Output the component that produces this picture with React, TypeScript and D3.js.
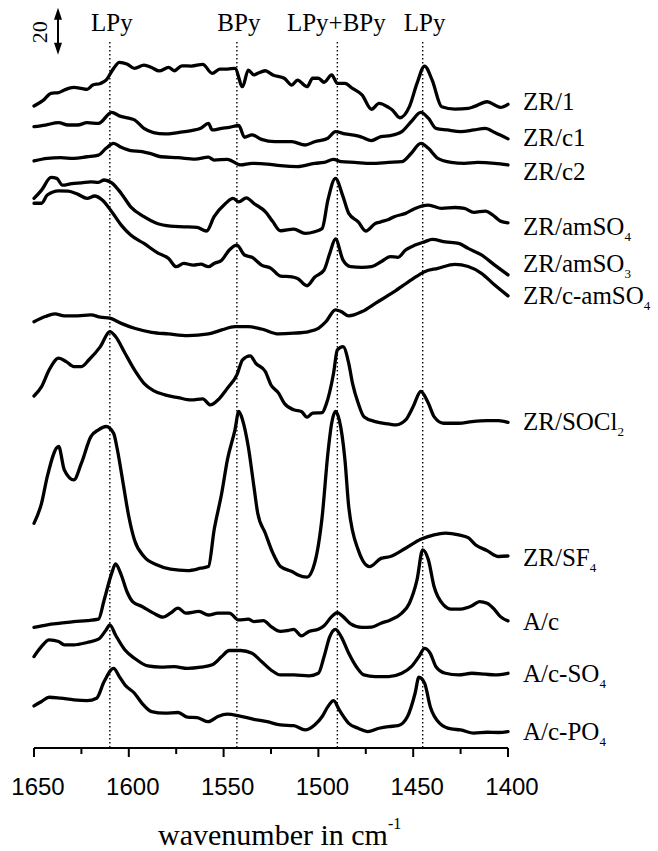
import React from "react";
import * as d3 from "d3";

// IR spectra of adsorbed pyridine, [wavenumber cm-1, intensity] relative to each baseline
const zr1: [number, number][] = [
  [1650, 0.3], [1645, 2.8], [1641, 5.7], [1637, 6.0], [1634, 7.1], [1629, 8.2], [1625, 7.8],
  [1622, 7.4], [1619, 9.2], [1615, 9.9], [1612, 11.3], [1608, 16.3], [1605, 18.9], [1601, 18.2],
  [1597, 16.3], [1592, 17.7], [1588, 16.7], [1584, 15.2], [1579, 16.7], [1576, 15.3], [1572, 17.4],
  [1567, 17.3], [1561, 18.0], [1556, 14.2], [1552, 16.0], [1548, 16.0], [1544, 16.3], [1540, 8.5],
  [1537, 15.6], [1534, 13.5], [1532, 14.2], [1528, 15.3], [1524, 13.5], [1518, 12.1], [1514, 9.2],
  [1511, 11.3], [1506, 8.5], [1503, 12.1], [1500, 12.1], [1497, 10.4], [1493, 13.5], [1490, 9.9],
  [1486, 9.9], [1482, 7.8], [1477, 5.0], [1472, -1.1], [1468, 1.4], [1463, -0.3], [1461, -1.4],
  [1457, -4.7], [1452, 0], [1448, 9.9], [1444, 17.3], [1440, 11.3], [1435, 0], [1428, -1.0],
  [1421, -0.7], [1418, 0], [1411, 2.1], [1406, 0.3], [1404, -0.3], [1400, 1.0],
];
const zrC1: [number, number][] = [
  [1650, 2.1], [1644, 2.8], [1637, 3.8], [1632, 2.8], [1627, 2.8], [1622, 3.8], [1616, 3.5],
  [1609, 8.2], [1605, 6.7], [1600, 5.7], [1597, 5.0], [1592, 1.4], [1587, -0.4], [1581, -1.0],
  [1574, -0.4], [1567, 0.4], [1562, 1.4], [1558, 3.5], [1556, 0.7], [1551, 1.4], [1547, 1.8],
  [1542, 2.6], [1539, -2.4], [1535, -1.4], [1530, -3.3], [1523, -4.3], [1514, -4.3], [1507, -5.7],
  [1502, -4.3], [1495, -2.8], [1491, 0], [1486, -1.0], [1480, -1.7], [1477, -2.4], [1472, -3.8],
  [1467, -2.1], [1462, -1.7], [1456, 0], [1451, 4.3], [1446, 8.2], [1442, 5.7], [1438, 1.4],
  [1432, 0.7], [1425, 0], [1418, 0.7], [1412, 1.4], [1407, -0.4], [1400, -3.1],
];
const zrC2: [number, number][] = [
  [1650, 1.0], [1643, 2.1], [1636, 2.4], [1629, 2.1], [1622, 2.8], [1616, 3.5], [1612, 6.4],
  [1608, 8.5], [1604, 6.8], [1599, 5.4], [1593, 5.0], [1588, 4.0], [1583, 2.8], [1574, 2.4],
  [1565, 1.8], [1558, 2.6], [1555, 1.4], [1548, 1.7], [1541, -0.7], [1535, 0], [1527, -0.3],
  [1520, -1.0], [1511, -1.4], [1502, 0], [1497, 0.4], [1492, 1.7], [1488, 0.7], [1481, 0.4],
  [1472, 0], [1463, 0.4], [1456, 0.7], [1451, 4.3], [1446, 8.5], [1442, 6.4], [1437, 2.1],
  [1430, 0.4], [1423, 0], [1416, 0.4], [1407, 0], [1400, -0.7],
];
const zrAmSO4: [number, number][] = [
  [1650, 12.1], [1646, 15.6], [1641, 21.0], [1638, 20.6], [1635, 17.7], [1630, 18.4], [1625, 18.7],
  [1620, 19.1], [1616, 18.9], [1613, 19.9], [1609, 18.7], [1604, 14.2], [1599, 8.5], [1592, 4.3],
  [1585, 1.4], [1578, 0.3], [1571, 0], [1564, -0.3], [1559, -1.8], [1555, 4.3], [1549, 9.9],
  [1545, 12.1], [1542, 10.6], [1538, 12.3], [1534, 9.9], [1528, 6.4], [1524, 2.1], [1520, -1.7],
  [1513, -1.0], [1507, -2.8], [1502, -2.1], [1498, -0.7], [1495, 11.3], [1491, 20.6], [1487, 12.8],
  [1484, 5.7], [1479, 2.1], [1475, -1.8], [1470, 1.4], [1467, 2.1], [1463, 3.1], [1460, 4.3],
  [1454, 5.7], [1449, 7.8], [1442, 9.2], [1435, 7.8], [1428, 8.2], [1423, 7.8], [1418, 6.1],
  [1412, 6.7], [1407, 4.3], [1404, 2.4], [1400, 1.7],
];
const zrAmSO3: [number, number][] = [
  [1650, 27.0], [1646, 27.0], [1643, 30.5], [1637, 32.3], [1632, 32.2], [1627, 30.9], [1622, 29.1],
  [1618, 30.1], [1614, 28.4], [1609, 23.4], [1604, 17.7], [1599, 13.5], [1592, 9.9], [1585, 6.0],
  [1579, 3.5], [1575, 0], [1571, 1.4], [1566, 0.7], [1562, 1.1], [1558, 0], [1555, 1.4],
  [1551, 2.8], [1547, 7.1], [1543, 9.2], [1539, 5.0], [1535, 4.0], [1530, 0.7], [1525, -0.7],
  [1520, -4.0], [1514, -4.3], [1511, -5.0], [1506, -8.1], [1502, -4.5], [1497, -1.4], [1494, 5.7],
  [1491, 11.8], [1487, 2.8], [1483, 0], [1477, -0.3], [1472, 0], [1467, 2.1], [1462, 4.3],
  [1458, 4.0], [1454, 7.1], [1449, 9.2], [1444, 10.6], [1440, 11.6], [1433, 10.6], [1426, 9.9],
  [1421, 7.8], [1414, 5.0], [1407, 0.7], [1400, -3.5],
];
const zrCAmSO4: [number, number][] = [
  [1650, 3.5], [1644, 5.7], [1639, 6.8], [1634, 6.0], [1627, 6.0], [1620, 6.4], [1615, 5.4],
  [1610, 5.0], [1604, 2.8], [1597, 0.7], [1588, -1.0], [1579, -1.7], [1569, -2.4], [1558, -1.7],
  [1551, 0], [1544, 1.4], [1537, 1.4], [1530, 0.4], [1521, -1.7], [1513, -1.4], [1505, -0.7],
  [1500, 0.7], [1496, 3.5], [1491, 8.5], [1488, 7.8], [1484, 6.0], [1477, 7.8], [1470, 11.3],
  [1460, 16.3], [1451, 21.3], [1444, 24.8], [1437, 26.2], [1428, 27.9], [1421, 27.0], [1414, 24.1],
  [1407, 19.1], [1400, 14.5],
];
const zrSOCl2: [number, number][] = [
  [1650, 11.6], [1646, 15.6], [1642, 22.7], [1637, 27.7], [1633, 26.2], [1629, 24.1], [1625, 24.1],
  [1621, 27.0], [1615, 32.6], [1610, 39.0], [1607, 36.9], [1602, 29.8], [1597, 22.7], [1592, 17.0],
  [1587, 13.9], [1581, 12.1], [1574, 10.9], [1567, 9.9], [1561, 10.4], [1557, 7.8], [1553, 9.9],
  [1548, 14.9], [1543, 20.6], [1540, 27.0], [1536, 28.7], [1533, 25.5], [1528, 22.0], [1525, 16.3],
  [1521, 12.8], [1518, 8.5], [1513, 5.7], [1509, 5.0], [1506, 2.6], [1503, 4.3], [1498, 4.5],
  [1496, 7.8], [1492, 21.3], [1490, 31.2], [1487, 32.6], [1484, 25.5], [1482, 17.0], [1479, 8.5],
  [1476, 2.8], [1470, 0.7], [1463, -0.3], [1459, -0.7], [1454, 1.4], [1450, 7.1], [1446, 13.5],
  [1442, 8.5], [1439, 2.8], [1434, 0], [1426, 0], [1419, 0.7], [1411, 1.1], [1405, 1.1], [1400, 0.4],
];
const zrSF4: [number, number][] = [
  [1650, 18.4], [1646, 27.0], [1643, 38.3], [1637, 51.1], [1634, 41.1], [1629, 36.9], [1625, 44.0],
  [1620, 55.3], [1616, 58.2], [1612, 59.6], [1608, 56.7], [1606, 49.6], [1603, 35.5], [1600, 21.3],
  [1597, 11.3], [1592, 4.3], [1585, 0.7], [1578, -1.1], [1569, -1.7], [1562, -0.7], [1558, 0],
  [1555, 15.6], [1551, 31.2], [1548, 45.4], [1544, 58.2], [1542, 66.0], [1540, 62.4], [1537, 51.1],
  [1534, 34.0], [1532, 22.7], [1528, 14.2], [1524, 5.7], [1520, 0], [1514, -2.1], [1511, -3.5],
  [1506, -4.5], [1502, 1.4], [1498, 21.3], [1495, 48.2], [1493, 61.0], [1491, 66.0], [1489, 62.4],
  [1486, 45.4], [1484, 25.5], [1479, 7.1], [1473, 0], [1467, 3.5], [1462, 4.3], [1454, 7.8],
  [1446, 11.6], [1439, 13.5], [1433, 14.2], [1426, 13.5], [1421, 12.3], [1417, 9.2], [1411, 6.8],
  [1405, 4.3], [1400, 4.5],
];
const ac: [number, number][] = [
  [1650, -1.8], [1643, -0.7], [1636, 0], [1629, 0.7], [1622, 1.1], [1616, 1.7], [1613, 9.9],
  [1609, 21.3], [1607, 25.2], [1604, 20.6], [1601, 13.5], [1598, 9.2], [1593, 7.1], [1587, 4.3],
  [1582, 2.6], [1578, 4.3], [1574, 6.4], [1570, 4.3], [1563, 5.0], [1558, 3.5], [1553, 4.3],
  [1547, 4.3], [1542, 1.4], [1537, 1.7], [1534, 0.7], [1529, 1.1], [1525, -1.4], [1520, -3.5],
  [1516, -3.1], [1513, -2.6], [1509, -5.4], [1505, -3.5], [1500, -2.6], [1497, -1.1], [1493, 2.8],
  [1490, 4.5], [1487, 2.8], [1483, -0.3], [1477, -1.8], [1472, -1.7], [1467, 0], [1462, 1.4],
  [1456, 4.3], [1452, 8.5], [1448, 18.4], [1445, 31.2], [1442, 27.0], [1439, 15.6], [1434, 7.8],
  [1430, 6.0], [1425, 6.0], [1419, 7.4], [1415, 9.2], [1411, 8.5], [1407, 5.7], [1404, 2.8],
  [1400, 1.0],
];
const acSO4: [number, number][] = [
  [1650, 7.8], [1646, 12.1], [1642, 14.9], [1637, 14.2], [1634, 12.8], [1629, 12.8], [1622, 13.8],
  [1616, 15.2], [1612, 19.1], [1610, 21.3], [1607, 17.0], [1602, 10.6], [1597, 7.1], [1590, 3.8],
  [1583, 3.3], [1576, 3.5], [1569, 2.8], [1562, 3.3], [1556, 4.3], [1551, 7.8], [1547, 10.4],
  [1541, 10.4], [1535, 9.2], [1530, 5.7], [1525, 2.1], [1520, 0], [1513, 0], [1505, -0.4],
  [1500, 0.7], [1497, 7.8], [1494, 16.3], [1491, 19.4], [1488, 16.3], [1484, 9.2], [1480, 3.5],
  [1476, 0], [1470, -0.7], [1463, -0.7], [1456, 0.7], [1451, 3.5], [1447, 7.8], [1444, 11.3],
  [1441, 9.2], [1438, 3.5], [1433, 0.7], [1426, 0], [1419, 0.7], [1412, 0.3], [1407, 0], [1400, 0.7],
];
const acPO4: [number, number][] = [
  [1650, 10.2], [1646, 12.1], [1642, 13.9], [1636, 13.5], [1629, 12.8], [1622, 12.5], [1617, 13.5],
  [1613, 20.6], [1608, 26.2], [1605, 22.7], [1602, 19.1], [1597, 15.6], [1593, 11.3], [1588, 7.8],
  [1581, 7.1], [1574, 7.4], [1569, 5.4], [1564, 5.2], [1558, 3.5], [1553, 5.7], [1548, 6.7],
  [1542, 6.0], [1534, 4.5], [1527, 3.5], [1520, 2.1], [1513, 1.8], [1507, 0], [1502, 2.1],
  [1498, 5.7], [1495, 9.9], [1492, 12.5], [1489, 8.5], [1484, 2.8], [1479, 0.7], [1474, -0.7],
  [1468, 0.7], [1463, 1.4], [1458, 1.8], [1453, 5.7], [1449, 15.6], [1447, 22.4], [1444, 19.9],
  [1441, 9.9], [1436, 2.8], [1430, 0.4], [1425, 0], [1418, -1.4], [1411, -1.0], [1405, -1.1],
  [1400, -0.7],
];

const spectra = [zr1, zrC1, zrC2, zrAmSO4, zrAmSO3, zrCAmSO4, zrSOCl2, zrSF4, ac, acSO4, acPO4];
const seriesNames = ["ZR/1", "ZR/c1", "ZR/c2", "ZR/amSO", "ZR/amSO", "ZR/c-amSO", "ZR/SOCl", "ZR/SF", "A/c", "A/c-SO", "A/c-PO"];
const seriesSubs = ["", "", "", "4", "3", "4", "2", "4", "", "4", "4"];
// vertical offset of each spectrum, same units as the scale bar
const offsets = [272.9, 262.3, 248.8, 221.8, 204.8, 177.9, 138.2, 77.2, 53.1, 31.1, 7.7];

const majorTicks = [1650, 1600, 1550, 1500, 1450, 1400];
const minorTicks = [1625, 1575, 1525, 1475, 1425];
const bandPositions = [1610, 1543, 1490, 1445];
const bandLabels = ["LPy", "BPy", "LPy+BPy", "LPy"];
const scaleBar = { base: 295, size: 20 };

// layout
const W = 658;
const H = 851;
const axisY = 748;
const labelX = 523;
const labelBaselines = [110, 146, 180, 235, 272, 304, 430, 566, 630, 682, 740];
const serif = "'Liberation Serif', 'Times New Roman', serif";
const sans = "'Liberation Sans', Arial, sans-serif";

const x = d3.scaleLinear().domain([1650, 1400]).range([34, 508]);
const y = d3.scaleLinear().domain([0, 318.3]).range([axisY, 0]);

export default function App() {
  const line = (off: number) =>
    d3
      .line<[number, number]>()
      .x(d => x(d[0]))
      .y(d => y(d[1] + off))
      .curve(d3.curveMonotoneX);

  const barX = 58;
  const barTop = y(scaleBar.base + scaleBar.size);
  const barBottom = y(scaleBar.base);

  return (
    <svg
      width={W}
      height={H}
      style={{ position: "absolute", left: 0, top: 0, background: "#fff" }}
    >
      {/* band markers */}
      {bandPositions.map((b, i) => (
        <g key={"band" + i}>
          <line
            x1={x(b)}
            x2={x(b)}
            y1={42}
            y2={axisY}
            stroke="#000"
            strokeWidth={1.4}
            strokeDasharray="1.4 2.6"
          />
          <text
            x={x(b) + (i === 2 ? -1 : 2)}
            y={31}
            textAnchor="middle"
            fontFamily={serif}
            fontSize={25}
          >
            {bandLabels[i]}
          </text>
        </g>
      ))}

      {/* scale bar */}
      <line x1={barX} x2={barX} y1={barTop + 8} y2={barBottom - 8} stroke="#000" strokeWidth={2} />
      <path d={`M${barX},${barTop} L${barX - 4},${barTop + 12} L${barX + 4},${barTop + 12} Z`} fill="#000" />
      <path d={`M${barX},${barBottom} L${barX - 4},${barBottom - 12} L${barX + 4},${barBottom - 12} Z`} fill="#000" />
      <text
        transform={`translate(47, ${(barTop + barBottom) / 2 + 1}) rotate(-90)`}
        textAnchor="middle"
        fontFamily={serif}
        fontSize={22}
      >
        {scaleBar.size}
      </text>

      {/* spectra */}
      {spectra.map((s, i) => (
        <path
          key={"s" + i}
          d={line(offsets[i])(s) || ""}
          fill="none"
          stroke="#000"
          strokeWidth={3.3}
          strokeLinejoin="round"
          strokeLinecap="round"
        />
      ))}

      {/* series labels */}
      {seriesNames.map((n, i) => (
        <text key={"l" + i} x={labelX} y={labelBaselines[i]} fontFamily={serif} fontSize={25}>
          {n}
          {seriesSubs[i] && (
            <tspan fontSize={13} dy={6}>
              {seriesSubs[i]}
            </tspan>
          )}
        </text>
      ))}

      {/* x axis */}
      <line x1={x(1650)} x2={x(1400)} y1={axisY} y2={axisY} stroke="#000" strokeWidth={2} />
      {majorTicks.map(t => (
        <g key={"t" + t}>
          <line x1={x(t)} x2={x(t)} y1={axisY} y2={axisY + 9} stroke="#000" strokeWidth={2} />
          <text x={x(t) + 4} y={795} textAnchor="middle" fontFamily={sans} fontSize={24}>
            {t}
          </text>
        </g>
      ))}
      {minorTicks.map(t => (
        <line key={"m" + t} x1={x(t)} x2={x(t)} y1={axisY} y2={axisY + 6} stroke="#000" strokeWidth={2} />
      ))}
      <text x={158} y={845} fontFamily={serif} fontSize={30}>
        wavenumber in cm
        <tspan fontSize={16} dy={-16}>
          -1
        </tspan>
      </text>
    </svg>
  );
}
